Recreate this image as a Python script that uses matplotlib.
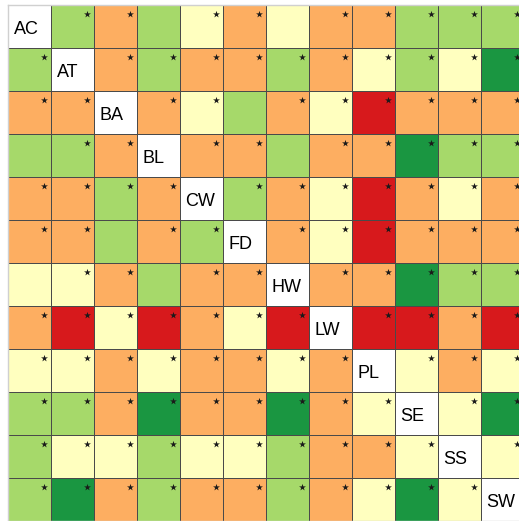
import numpy as np
import matplotlib.pyplot as plt
from matplotlib.colors import ListedColormap

labels = ["AC", "AT", "BA", "BL", "CW", "FD", "HW", "LW", "PL", "SE", "SS", "SW"]

# level per cell: 0 red, 1 orange, 2 yellow, 3 light green, 4 dark green, -1 diagonal
levels = [
    [-1, 3, 1, 3, 2, 1, 2, 1, 1, 3, 3, 3],
    [3, -1, 1, 3, 1, 1, 3, 1, 2, 3, 2, 4],
    [1, 1, -1, 1, 2, 3, 1, 2, 0, 1, 1, 1],
    [3, 3, 1, -1, 1, 1, 3, 1, 1, 4, 3, 3],
    [1, 1, 3, 1, -1, 3, 1, 2, 0, 1, 2, 1],
    [1, 1, 3, 1, 3, -1, 1, 2, 0, 1, 1, 1],
    [2, 2, 1, 3, 1, 1, -1, 1, 1, 4, 3, 3],
    [1, 0, 2, 0, 1, 2, 0, -1, 0, 0, 1, 0],
    [2, 2, 1, 2, 1, 1, 2, 1, -1, 2, 1, 2],
    [3, 3, 1, 4, 1, 1, 4, 1, 2, -1, 2, 4],
    [3, 2, 2, 3, 2, 2, 3, 1, 1, 2, -1, 2],
    [3, 4, 1, 3, 1, 1, 3, 1, 2, 4, 2, -1],
]

# significant pairs (1 = star)
signif = [
    [0, 1, 1, 0, 1, 1, 0, 1, 1, 1, 1, 1],
    [1, 0, 1, 1, 1, 1, 1, 1, 1, 1, 1, 1],
    [1, 1, 0, 1, 1, 0, 1, 1, 1, 1, 1, 1],
    [0, 1, 1, 0, 1, 1, 0, 1, 1, 1, 1, 1],
    [1, 1, 1, 1, 0, 1, 1, 1, 1, 1, 1, 1],
    [1, 1, 0, 1, 1, 0, 1, 1, 1, 1, 1, 1],
    [0, 1, 1, 0, 1, 1, 0, 1, 1, 1, 1, 1],
    [1, 1, 1, 1, 1, 1, 1, 0, 1, 1, 1, 1],
    [1, 1, 1, 1, 1, 1, 1, 1, 0, 1, 1, 1],
    [1, 1, 1, 1, 1, 1, 1, 1, 1, 0, 1, 1],
    [1, 1, 1, 1, 1, 1, 1, 1, 1, 1, 0, 1],
    [1, 1, 1, 1, 1, 1, 1, 1, 1, 1, 1, 0],
]

colors = ["#ffffff", "#d7191c", "#fdae61", "#ffffbf", "#a6d96a", "#1a9641"]
cmap = ListedColormap(colors)

n = len(labels)
grid = np.array(levels) + 1

fig = plt.figure(figsize=(5.19, 5.21), dpi=100)
ax = fig.add_axes([8 / 519, 0.0, 516 / 519, 516 / 521])

ax.pcolormesh(grid, cmap=cmap, vmin=-0.5, vmax=5.5,
              edgecolors="#4a4a4a", linewidth=0.7)
ax.set_xlim(0, n)
ax.set_ylim(n, 0)
ax.set_xticks([])
ax.set_yticks([])
for sp in ax.spines.values():
    sp.set_color("#d0d0d0")
    sp.set_linewidth(1.0)

for i in range(n):
    ax.text(i + 0.13, i + 0.56, labels[i], ha="left", va="center",
            fontsize=13, family="Liberation Sans", color="black")

rows, cols = np.nonzero(np.array(signif))
ax.scatter(cols + 0.84, rows + 0.22, marker="*", s=27, color="#1a1a1a",
           linewidths=0, zorder=3)

plt.savefig("out.png", dpi=100)
